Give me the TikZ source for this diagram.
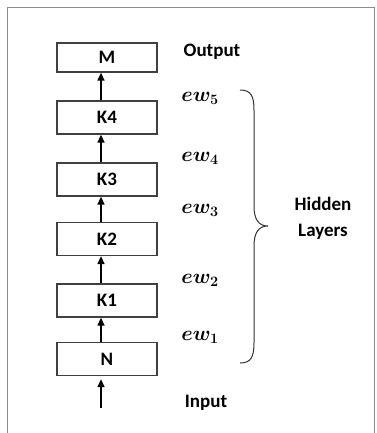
\documentclass[tikz,border=0pt]{standalone}
\usepackage{fontspec}
\setmainfont{Carlito}
\usepackage{amsmath}
\usetikzlibrary{arrows.meta}
\tikzstyle{layerbox} = [draw=black!75, line width=1.3pt, rectangle,
minimum width=100pt, minimum height=33pt, inner sep=0pt,
font=\bfseries\fontsize{19}{19}\selectfont]
\tikzstyle{sidelabel} = [inner sep=0pt, font=\bfseries\fontsize{19}{26}\selectfont]
\tikzstyle{weightlabel} = [inner sep=0pt, font=\fontsize{20}{20}\selectfont\boldmath]
\tikzstyle{uparrow} = [line width=1.6pt, -{Triangle[width=7pt,length=8pt]}]

\begin{document}
\begin{tikzpicture}[x=1pt,y=-1pt]
        \useasboundingbox (0,0) rectangle (376,433);
        \draw[black!45, line width=0.8pt] (7,433) -- (7,7) -- (374,7) -- (374,433);
        % layers, bottom to top
        \node[layerbox] (N) at (107,359) {N};
        \node[layerbox] (K1) at (107,300.5) {K1};
        \node[layerbox] (K2) at (107,239) {K2};
        \node[layerbox] (K3) at (107,179.5) {K3};
        \node[layerbox] (K4) at (107,117.5) {K4};
        \node[layerbox, minimum height=29pt] (M) at (107,57.5) {M};
        \coordinate (in) at (101,408);
        \draw[uparrow] (in) -- ([xshift=-6pt,yshift=-3pt]N.south);
        \draw[uparrow] ([xshift=-6pt]N.north) -- ([xshift=-6pt]K1.south);
        \draw[uparrow] ([xshift=-6pt]K1.north) -- ([xshift=-6pt]K2.south);
        \draw[uparrow] ([xshift=-6pt]K2.north) -- ([xshift=-6pt]K3.south);
        \draw[uparrow] ([xshift=-6pt]K3.north) -- ([xshift=-6pt]K4.south);
        \draw[uparrow] ([xshift=-6pt]K4.north) -- ([xshift=-6pt]M.south);
        % labels
        \node[sidelabel] (out) at (212,52) {Output};
        \node[sidelabel] (inp) at (206,403) {Input};
        \node[weightlabel] (ew5) at (200,98) {$ew_5$};
        \node[weightlabel] (ew4) at (200,158) {$ew_4$};
        \node[weightlabel] (ew3) at (200,210) {$ew_3$};
        \node[weightlabel] (ew2) at (200,280) {$ew_2$};
        \node[weightlabel] (ew1) at (200,337) {$ew_1$};
        \draw[black!80, line width=1pt] (240,90) .. controls (251,90) and (254,96) .. (254,110)
            -- (254,206) .. controls (254,220) and (259,226) .. (268,226)
            .. controls (259,226) and (254,232) .. (254,246)
            -- (254,343) .. controls (254,357) and (251,363) .. (240,363);
        \node[sidelabel, align=center] (hid) at (323,218) {Hidden\\Layers};
    \end{tikzpicture}
\end{document}
